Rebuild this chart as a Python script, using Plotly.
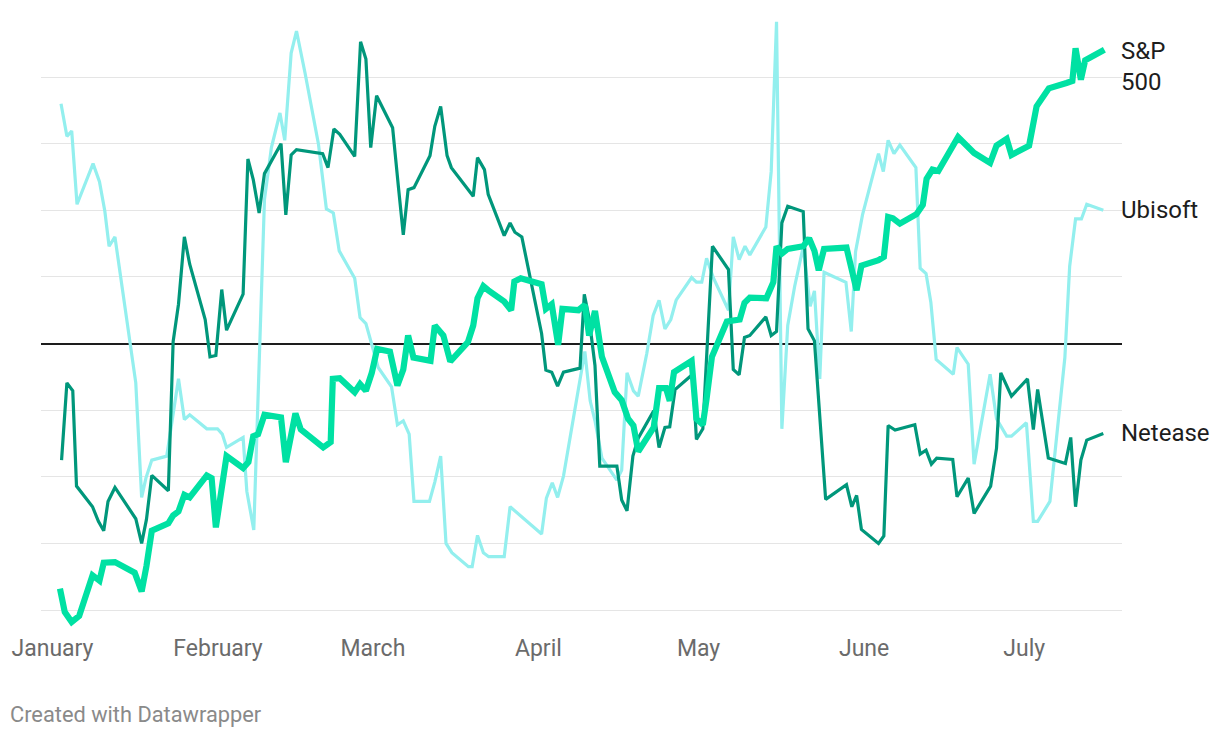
import pandas as pd
import plotly.graph_objects as go

# ---- data (day offset from 2020-01-01, value in % relative to baseline) ----
BASE = pd.Timestamp("2020-01-01")

ubi_day = [1.6, 2.7, 3.6, 4.6, 7.6, 8.8, 9.8, 10.6, 11.7, 13.0,
           14.4, 15.6, 16.7, 17.5, 18.6, 21.4, 23.6, 24.7, 25.7, 28.9,
           30.9, 31.8, 32.6, 35.7, 36.4, 37.7, 39.7, 41.0, 42.6, 43.5,
           44.7, 45.7, 47.3, 49.8, 51.3, 52.6, 53.7, 56.6, 57.6, 58.7,
           61.0, 63.5, 64.6, 65.7, 66.8, 67.7, 70.6, 71.6, 72.7, 73.7,
           74.8, 77.9, 78.6, 79.6, 80.7, 81.7, 84.6, 85.7, 91.6, 92.5,
           93.6, 94.6, 95.7, 98.5, 99.7, 100.7, 101.6, 102.9, 105.7, 106.6,
           107.6, 108.8, 109.7, 111.3, 112.5, 113.6, 114.7, 115.8, 116.8, 119.7,
           120.6, 121.6, 122.5, 123.8, 126.6, 127.5, 128.6, 129.7, 130.6, 133.6,
           134.6, 135.6, 136.6, 137.7, 139.0, 140.6, 141.9, 142.7, 143.7, 144.5,
           148.6, 149.6, 150.4, 151.7, 154.7, 155.6, 156.5, 157.6, 158.7, 161.7,
           162.5, 163.6, 164.5, 165.5, 168.7, 169.4, 171.5, 172.6, 175.6, 176.8,
           178.7, 179.6, 182.4, 183.7, 184.5, 186.8, 189.6, 190.5, 191.6, 192.7,
           193.7, 196.8]
ubi_val = [36.0, 31.1, 31.9, 20.9, 27.0, 24.3, 19.9, 14.6, 16.0, 8.6,
           0.3, -5.9, -23.1, -20.2, -17.5, -16.9, -5.3, -11.4, -10.7, -12.8,
           -12.8, -13.6, -15.6, -14.1, -22.2, -28.0, 21.6, 29.4, 34.6, 30.5,
           43.6, 46.9, 40.6, 30.0, 20.2, 19.6, 13.9, 9.8, 3.9, 3.0,
           -3.6, -6.5, -12.2, -11.6, -13.6, -23.7, -23.7, -20.8, -16.9, -30.0,
           -31.4, -33.5, -33.5, -28.8, -31.4, -32.0, -32.0, -24.5, -28.6, -23.2,
           -20.9, -23.1, -19.9, -7.1, -1.2, -8.6, -11.6, -17.2, -20.5, -19.0,
           -4.4, -7.1, -7.9, -1.5, 4.2, 6.5, 2.2, 3.6, 6.5, 9.9,
           9.2, 9.2, 12.8, 9.8, 5.0, 16.0, 12.6, 14.6, 13.3, 17.5,
           25.8, 48.3, -12.8, 2.7, 8.6, 14.5, 5.6, 7.9, -5.3, 10.7,
           9.2, 1.8, 13.8, 19.3, 28.5, 25.8, 30.5, 28.5, 29.8, 26.4,
           11.3, 10.5, 6.2, -2.4, -4.6, -0.6, -3.1, -18.1, -4.6, -11.3,
           -13.9, -13.9, -11.9, -26.7, -26.7, -23.7, -2.1, 11.6, 18.7, 18.7,
           20.9, 20.0]

net_day = [1.7, 2.7, 3.8, 4.5, 7.5, 8.6, 9.6, 10.4, 11.7, 15.6,
           16.7, 17.6, 18.6, 21.7, 22.6, 23.6, 24.7, 25.7, 28.6, 29.5,
           30.6, 31.7, 32.6, 35.7, 36.6, 37.6, 38.7, 39.7, 42.8, 43.7,
           44.7, 45.7, 50.6, 51.6, 52.7, 53.8, 56.6, 57.7, 58.7, 59.6,
           60.7, 63.7, 64.8, 65.7, 66.6, 67.7, 70.7, 71.6, 72.7, 73.9,
           74.7, 77.8, 78.8, 79.6, 80.9, 81.6, 84.6, 85.7, 86.6, 87.9,
           91.6, 92.4, 93.5, 94.6, 95.7, 98.8, 99.6, 100.5, 101.6, 102.5,
           105.7, 106.6, 107.6, 108.7, 109.7, 112.6, 113.6, 114.7, 115.6, 116.6,
           119.9, 120.6, 121.8, 123.6, 126.6, 127.5, 128.6, 129.6, 130.6, 133.6,
           134.6, 135.6, 136.6, 137.7, 140.6, 141.5, 142.7, 144.8, 148.7, 149.7,
           150.6, 151.5, 154.7, 155.7, 156.5, 157.8, 161.5, 162.5, 163.6, 164.6,
           165.6, 168.6, 169.4, 171.5, 172.6, 175.7, 176.8, 177.6, 179.6, 182.6,
           183.7, 184.5, 186.5, 189.7, 190.7, 191.6, 192.6, 193.7, 196.8]
net_val = [-17.5, -5.9, -7.1, -21.4, -24.5, -26.7, -28.1, -23.7, -21.6, -26.3,
           -30.0, -26.4, -19.8, -22.1, 0.3, 5.9, 16.0, 11.9, 3.6, -2.0,
           -1.8, 8.1, 2.0, 7.4, 27.7, 24.6, 19.6, 25.5, 30.0, 19.3,
           28.3, 29.1, 28.5, 26.4, 32.2, 31.4, 28.1, 45.3, 42.7, 29.4,
           37.2, 32.4, 23.4, 16.3, 23.1, 23.4, 28.2, 32.6, 35.6, 28.2,
           26.4, 23.0, 22.1, 27.9, 26.1, 22.4, 16.2, 18.1, 16.7, 16.0,
           1.5, -4.0, -4.3, -6.4, -4.3, -3.7, 7.4, 3.8, -3.3, -18.4,
           -18.4, -23.5, -25.1, -16.9, -14.2, -10.1, -15.6, -12.6, -12.5, -6.9,
           -4.6, -14.4, -12.8, 14.6, 11.1, -3.9, -4.7, 0.9, 1.2, 4.0,
           1.2, 1.8, 18.1, 20.6, 19.8, 2.2, 0.4, -23.4, -21.2, -24.5,
           -22.8, -27.9, -30.0, -28.9, -12.3, -13.0, -12.2, -16.6, -16.0, -18.1,
           -17.2, -17.4, -23.0, -20.2, -25.5, -21.4, -15.7, -4.4, -7.9, -5.3,
           -12.9, -6.9, -17.2, -18.0, -14.1, -24.5, -17.5, -14.5, -13.5]

sp_day = [1.4, 2.3, 3.6, 5.0, 7.5, 8.8, 9.6, 11.7, 15.4, 16.7,
          17.6, 18.6, 21.7, 22.6, 23.6, 24.7, 25.7, 28.9, 29.8, 30.6,
          32.6, 35.7, 36.7, 37.6, 38.5, 39.7, 42.8, 43.7, 45.5, 46.5,
          50.7, 52.1, 52.5, 53.8, 56.6, 57.6, 58.7, 59.8, 60.8, 63.2,
          64.6, 65.7, 66.6, 67.6, 70.8, 71.6, 73.2, 74.5, 77.8, 78.8,
          79.6, 80.7, 81.6, 84.6, 85.9, 86.5, 87.7, 91.6, 92.4, 93.5,
          94.7, 95.5, 98.5, 99.7, 100.5, 101.6, 102.9, 105.3, 106.6, 107.8,
          108.8, 109.7, 112.6, 113.6, 114.9, 115.6, 116.4, 119.7, 120.6, 121.8,
          122.5, 123.5, 126.3, 128.7, 129.6, 130.6, 133.7, 135.0, 135.6, 136.6,
          137.7, 140.6, 141.7, 142.7, 143.5, 144.5, 148.7, 149.7, 150.6, 151.5,
          154.7, 155.7, 156.5, 157.4, 158.7, 161.8, 163.0, 163.7, 164.8, 165.9,
          169.6, 172.6, 175.6, 176.8, 178.7, 179.6, 182.9, 184.3, 186.6, 189.9,
          191.0, 191.6, 192.6, 193.4, 197.0]
sp_val = [-36.8, -40.3, -41.8, -40.9, -34.8, -35.6, -32.9, -32.8, -34.4, -37.2,
          -33.4, -28.1, -27.0, -25.8, -25.2, -22.7, -23.1, -19.8, -20.2, -27.6,
          -16.9, -18.7, -17.8, -13.9, -13.6, -10.7, -11.1, -17.8, -10.5, -12.9,
          -15.6, -14.8, -5.3, -5.2, -7.3, -6.1, -7.1, -4.4, -0.8, -1.2,
          -6.3, -3.9, 1.2, -2.1, -2.6, 2.7, 1.2, -2.7, 0.2, 2.7,
          6.8, 8.6, 8.0, 6.3, 5.0, 9.3, 9.8, 8.9, 5.2, 5.9,
          -0.2, 5.2, 5.0, 5.8, 1.2, 4.9, -2.0, -7.3, -8.5, -11.3,
          -12.3, -16.2, -12.6, -6.7, -6.7, -8.6, -4.3, -2.6, -11.3, -12.2,
          -8.3, -2.0, 3.3, 3.6, 6.1, 6.9, 6.8, 9.2, 14.6, 13.5,
          14.2, 14.6, 15.8, 13.9, 11.0, 14.2, 14.4, 11.0, 8.0, 11.7,
          12.5, 13.0, 19.0, 18.8, 18.0, 19.4, 20.8, 24.7, 26.1, 25.9,
          31.0, 28.6, 27.1, 29.7, 30.7, 28.3, 29.7, 35.6, 38.3, 39.1,
          39.4, 44.3, 39.6, 42.5, 44.1]

series_names = ["Ubisoft", "Netease", "S&P 500"]
label_texts = ["Ubisoft", "Netease", "S&P<br>500"]
grid_vals = [-40, -30, -20, -10, 0, 10, 20, 30, 40]


def to_dates(days):
    return [BASE + pd.Timedelta(days=d) for d in days]


COL_UBI = "#93efee"
COL_NET = "#00977b"
COL_SP = "#00e1a3"
FONT = "Roboto"

fig = go.Figure()
fig.add_trace(go.Scatter(x=to_dates(ubi_day), y=ubi_val, mode="lines", name=series_names[0],
                         line=dict(color=COL_UBI, width=3.2), hoverinfo="skip"))
fig.add_trace(go.Scatter(x=to_dates(net_day), y=net_val, mode="lines", name=series_names[1],
                         line=dict(color=COL_NET, width=3.2), hoverinfo="skip"))
fig.add_trace(go.Scatter(x=to_dates(sp_day), y=sp_val, mode="lines", name=series_names[2],
                         line=dict(color=COL_SP, width=6.2), hoverinfo="skip"))

# end-of-line labels
ends = [(ubi_val[-1], label_texts[0], 0), (net_val[-1], label_texts[1], 0), (sp_val[-1], label_texts[2], -17)]
for yv, txt, ys in ends:
    fig.add_annotation(x=1.0, xref="paper", y=yv, yref="y", text=txt, showarrow=False,
                       xanchor="left", yanchor="middle", align="left", yshift=ys, xshift=-3,
                       font=dict(family=FONT, size=24, color="#1d1d1d"))

fig.add_annotation(x=-0.0287, xref="paper", y=-0.1355, yref="paper", text="Created with Datawrapper",
                   showarrow=False, xanchor="left", yanchor="middle", xshift=-2,
                   font=dict(family=FONT, size=21.8, color="#8a8a8a"))

# the page adds an 8px body margin; the margins below compensate for it
fig.update_layout(
    width=1220, height=738,
    margin=dict(l=33, r=106, t=2, b=116),
    paper_bgcolor="white", plot_bgcolor="white",
    showlegend=False,
    font=dict(family=FONT),
    xaxis=dict(type="date",
               range=[BASE - pd.Timedelta(days=2.15), BASE + pd.Timedelta(days=200.3)],
               tickformat="%B", dtick="M1", tick0="2020-01-01",
               showgrid=False, showline=False, zeroline=False, ticks="",
               ticklabelstandoff=2,
               tickfont=dict(family=FONT, size=23, color="#6b6b6b")),
    yaxis=dict(range=[-43.0, 50.06], tickvals=grid_vals, showticklabels=False,
               showgrid=True, gridcolor="#e5e5e5", gridwidth=1,
               zeroline=True, zerolinecolor="#1d1d1d", zerolinewidth=1.5,
               showline=False, ticks=""),
)

fig.write_html("out.html")
